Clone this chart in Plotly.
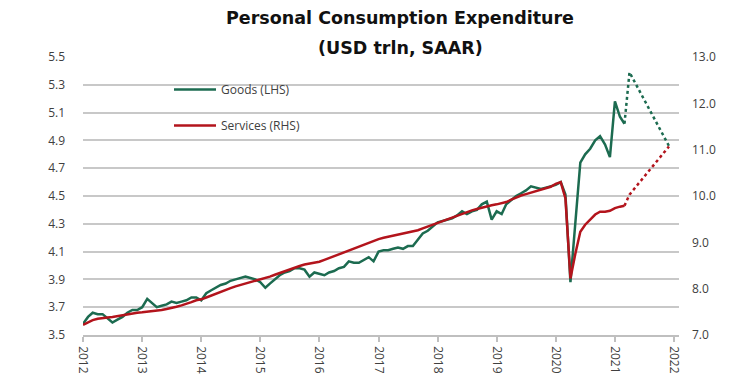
import plotly.graph_objects as go
import pandas as pd

# ---- data ----
months = pd.date_range("2012-01-01", "2021-03-01", freq="MS")

goods = [
    3.58, 3.63, 3.66, 3.65, 3.65, 3.62, 3.59, 3.61, 3.63, 3.66, 3.68, 3.68,  # 2012
    3.70, 3.76, 3.73, 3.70, 3.71, 3.72, 3.74, 3.73, 3.74, 3.75, 3.77, 3.77,  # 2013
    3.75, 3.80, 3.82, 3.84, 3.86, 3.87, 3.89, 3.90, 3.91, 3.92, 3.91, 3.90,  # 2014
    3.88, 3.84, 3.87, 3.90, 3.93, 3.95, 3.96, 3.98, 3.98, 3.97, 3.92, 3.95,  # 2015
    3.94, 3.93, 3.95, 3.96, 3.98, 3.99, 4.03, 4.02, 4.02, 4.04, 4.06, 4.03,  # 2016
    4.10, 4.11, 4.11, 4.12, 4.13, 4.12, 4.14, 4.14, 4.19, 4.23, 4.25, 4.28,  # 2017
    4.31, 4.32, 4.33, 4.34, 4.36, 4.39, 4.37, 4.39, 4.40, 4.44, 4.46, 4.33,  # 2018
    4.39, 4.37, 4.44, 4.47, 4.50, 4.52, 4.54, 4.57, 4.56, 4.55, 4.56, 4.57,  # 2019
    4.58, 4.60, 4.51, 3.88, 4.32, 4.74, 4.80, 4.84, 4.90, 4.93, 4.87, 4.78,  # 2020
    5.18, 5.07, 5.02,                                                        # 2021
]

services = [
    7.22, 7.27, 7.32, 7.35, 7.37, 7.38, 7.39, 7.41, 7.43, 7.45, 7.47, 7.48,  # 2012
    7.49, 7.50, 7.51, 7.52, 7.54, 7.56, 7.58, 7.61, 7.64, 7.67, 7.71, 7.75,  # 2013
    7.77, 7.81, 7.85, 7.89, 7.93, 7.97, 8.01, 8.05, 8.08, 8.11, 8.14, 8.17,  # 2014
    8.19, 8.22, 8.26, 8.30, 8.34, 8.38, 8.41, 8.45, 8.49, 8.52, 8.54, 8.56,  # 2015
    8.58, 8.62, 8.66, 8.70, 8.75, 8.79, 8.83, 8.87, 8.91, 8.95, 8.99, 9.03,  # 2016
    9.07, 9.10, 9.12, 9.14, 9.16, 9.18, 9.20, 9.23, 9.26, 9.30, 9.34, 9.38,  # 2017
    9.42, 9.46, 9.50, 9.54, 9.58, 9.62, 9.66, 9.69, 9.72, 9.75, 9.78, 9.80,  # 2018
    9.82, 9.84, 9.87, 9.92, 9.97, 10.01, 10.04, 10.07, 10.10, 10.13, 10.16, 10.20,  # 2019
    10.26, 10.30, 9.95, 8.22, 8.75, 9.23, 9.38, 9.48, 9.60, 9.66, 9.66, 9.68,  # 2020
    9.74, 9.77, 9.79,                                                        # 2021
]

forecast_dates = ["2021-03-01", "2021-04-01", "2021-12-01"]
goods_forecast = [5.02, 5.39, 4.86]
services_forecast = [9.79, 10.03, 11.07]

year_ticks = [f"{y}-01-01" for y in range(2012, 2023)]
year_labels = [str(y) for y in range(2012, 2023)]

GREEN = "#1c6b50"
RED = "#b3141c"
GRID = "#c8c8c8"
TXT = "#404040"

# page body has an 8px offset; plot area wanted at screen x 83..679, y 57..335
OFF = 8
L, R, T, B = 83, 679, 57, 335
W, H = 732, 382


def px_x(x):
    return (x - L) / (R - L)


def px_y(y):
    return (B - y) / (B - T)


fig = go.Figure()
fig.add_trace(go.Scatter(x=months, y=goods, name="Goods (LHS)", mode="lines",
                         line=dict(color=GREEN, width=2.5), legendgroup="g", yaxis="y"))
fig.add_trace(go.Scatter(x=months, y=services, name="Services (RHS)", mode="lines",
                         line=dict(color=RED, width=2.5), legendgroup="s", yaxis="y2"))
fig.add_trace(go.Scatter(x=forecast_dates, y=goods_forecast, mode="lines", showlegend=False,
                         line=dict(color=GREEN, width=2.5, dash="dot"), yaxis="y"))
fig.add_trace(go.Scatter(x=forecast_dates, y=services_forecast, mode="lines", showlegend=False,
                         line=dict(color=RED, width=2.5, dash="dot"), yaxis="y2"))

title_font = dict(family="DejaVu Sans", size=17.5, color="#111111", weight="bold")

fig.update_layout(
    width=W, height=H,
    margin=dict(l=L - OFF, r=W + OFF - R, t=T - OFF, b=H + OFF - B),
    paper_bgcolor="white", plot_bgcolor="white",
    font=dict(family="Open Sans", size=12, color=TXT),
    title=dict(text="Personal Consumption Expenditure", xref="container", x=(400 - OFF) / W,
               xanchor="center", yref="container", y=1 - (18 - OFF) / H, yanchor="middle",
               font=title_font),
    annotations=[dict(text="(USD trln, SAAR)", xref="paper", yref="paper",
                      x=px_x(400), y=px_y(48), xanchor="center", yanchor="middle",
                      showarrow=False, font=title_font)],
    showlegend=True,
    legend=dict(x=px_x(169), y=px_y(75), xanchor="left", yanchor="top",
                bgcolor="rgba(0,0,0,0)", traceorder="grouped", tracegroupgap=17,
                itemwidth=42,
                font=dict(family="Open Sans", size=12, color=TXT)),
    xaxis=dict(type="date", range=["2012-01-01", "2022-02-01"],
               tickvals=year_ticks, ticktext=year_labels, tickangle=90,
               ticks="outside", ticklen=5, tickcolor="#bfbfbf", tickwidth=1.5,
               showline=True, linecolor="#bfbfbf", linewidth=1.5,
               showgrid=False, zeroline=False, ticklabelstandoff=2,
               tickfont=dict(family="Open Sans", size=12, color=TXT)),
    yaxis=dict(range=[3.5, 5.5], tickmode="linear", tick0=3.5, dtick=0.2, tickformat=".1f",
               showgrid=True, gridcolor=GRID, gridwidth=1.5, zeroline=False,
               showline=False, ticks="", ticklabelstandoff=17,
               tickfont=dict(family="Open Sans", size=12, color=TXT)),
    yaxis2=dict(range=[7, 13], tickmode="linear", tick0=7, dtick=1, tickformat=".1f",
                overlaying="y", side="right", showgrid=False, zeroline=False,
                showline=False, ticks="", ticklabelstandoff=12,
                tickfont=dict(family="Open Sans", size=12, color=TXT)),
)

fig.write_html("out.html")
